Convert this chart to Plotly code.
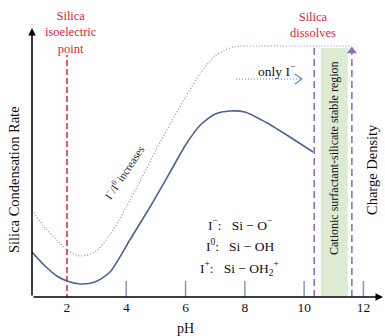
import plotly.graph_objects as go

# ---- data (pH, relative rate) ----
solid_ph = [0.82, 1.26, 1.66, 2.0, 2.44, 2.94, 3.45, 4.12, 4.80, 5.5, 6.0, 6.5, 7.0, 7.5, 8.0, 8.75, 9.52, 10.30]
solid_rate = [45, 31, 21, 16, 13, 15, 25, 57, 90, 126, 152, 172, 183, 186, 185, 174, 160, 145]

dotted_ph = [0.82, 1.26, 1.66, 2.0, 2.44, 2.94, 3.45, 4.0, 4.5, 5.0, 5.5, 6.0, 6.5, 7.0, 7.6, 8.5, 9.5, 10.5, 11.61]
dotted_rate = [87, 69, 57, 47, 41, 45, 62, 90, 118, 147, 174, 200, 224, 241, 250, 251, 251, 251, 251]

tick_vals = [2, 4, 6, 8, 10, 12]
tick_labels = ["2", "4", "6", "8", "10", "12"]
minor_tick_vals = [4, 6, 8, 10, 12]

iep_ph = 2.0
dissolve_ph = 10.34
charge_ph = 11.61
band_ph = [10.56, 11.47]

XR = [0.82, 12.66]
YR = [0, 269]

# pixel helpers for layout placement of text
def X(px):
    return XR[0] + (px - 32) / 29.65

def Y(py):
    return 297 - py

def PX(px):
    return (px - 32) / 351.0

def PY(py):
    return (297 - py) / 269.0

FONT = "Liberation Serif, Times New Roman, serif"
RED = "#d3293a"
PURPLE = "#8f70b6"
SOLID = "#4a6592"
DOT = "#7f93b5"
TICK = "#7d9cbd"
NB = "\u00a0"

fig = go.Figure()

# green band
fig.add_shape(type="rect", x0=band_ph[0], x1=band_ph[1], y0=0, y1=Y(48),
              fillcolor="#dcebd1", line_width=0, layer="below")

# tick marks
for t in minor_tick_vals:
    fig.add_trace(go.Scatter(x=[t, t], y=[0, 16], mode="lines",
                             line=dict(color=TICK, width=1.5), hoverinfo="skip"))

# curves
fig.add_trace(go.Scatter(x=dotted_ph, y=dotted_rate, mode="lines",
                         line=dict(color=DOT, width=1.2, dash="1px,2px", shape="spline", smoothing=0.7)))
fig.add_trace(go.Scatter(x=solid_ph, y=solid_rate, mode="lines",
                         line=dict(color=SOLID, width=1.6, shape="spline", smoothing=0.7)))

# red dashed iep line
fig.add_trace(go.Scatter(x=[iep_ph, iep_ph], y=[-3, Y(55)], mode="lines",
                         line=dict(color=RED, width=1.5, dash="6px,3px"), cliponaxis=False))

# purple dashed lines
fig.add_trace(go.Scatter(x=[dissolve_ph, dissolve_ph], y=[0, Y(47)], mode="lines",
                         line=dict(color=PURPLE, width=1.6, dash="7px,4px")))
fig.add_trace(go.Scatter(x=[charge_ph, charge_ph], y=[0, Y(52)], mode="lines",
                         line=dict(color=PURPLE, width=1.6, dash="7px,4px")))
fig.add_trace(go.Scatter(x=[charge_ph], y=[Y(51)], mode="markers",
                         marker=dict(symbol="triangle-up", size=9, color=PURPLE), cliponaxis=False))

# "only I-" dotted arrow
fig.add_trace(go.Scatter(x=[X(236), X(302)], y=[Y(79), Y(79)], mode="lines",
                         line=dict(color="#5b8ad0", width=1.2, dash="1px,2px")))
fig.add_trace(go.Scatter(x=[X(295), X(302), X(295)], y=[Y(74), Y(79), Y(84)], mode="lines",
                         line=dict(color="#5b8ad0", width=1.2)))

# axes arrows
fig.add_annotation(x=XR[1], y=0, ax=XR[0], ay=0, xref="x", yref="y", axref="x", ayref="y",
                   text="", showarrow=True, arrowhead=2, arrowsize=1, arrowwidth=1.5, arrowcolor="black")
fig.add_annotation(x=XR[0], y=YR[1], ax=XR[0], ay=0, xref="x", yref="y", axref="x", ayref="y",
                   text="", showarrow=True, arrowhead=2, arrowsize=1, arrowwidth=1.5, arrowcolor="black")

def txt(px, py, s, size=12, color="#111", angle=0):
    fig.add_annotation(x=PX(px), y=PY(py), xref="paper", yref="paper", text=s, showarrow=False,
                       font=dict(family=FONT, size=size, color=color), textangle=angle,
                       xanchor="center", yanchor="middle")

txt(71, 33, "Silica<br>isoelectric<br>point", 12.5, RED)
txt(313, 25, "Silica<br>dissolves", 12.5, RED)
txt(276, 71, "only" + NB + "I<sup>−</sup>", 13.5)
txt(124, 172, "I<sup>−</sup>/I<sup>0</sup>" + NB + "increases", 11, "#222", -56)
txt(240, 224, "I<sup>−</sup>:" + NB * 3 + "Si" + NB + "−" + NB + "O<sup>−</sup>", 13.5)
txt(240, 246, "I<sup>0</sup>:" + NB * 3 + "Si" + NB + "−" + NB + "OH", 13.5)
txt(239, 268, "I<sup>+</sup>:" + NB * 3 + "Si" + NB + "−" + NB + "OH<sub>2</sub><sup>+</sup>", 13.5)
txt(334, 158, "Cationic surfactant-silicate stable region", 12, "#111", -90)
txt(372, 170, "Charge Density", 14.5, "#111", -90)
txt(14, 180, "Silica Condensation Rate", 14.5, "#111", -90)
txt(185, 328, "pH", 14)

fig.update_layout(
    width=385, height=336,
    margin=dict(l=32, r=2, t=28, b=39),
    paper_bgcolor="white", plot_bgcolor="white",
    showlegend=False,
    font=dict(family=FONT),
    xaxis=dict(range=XR, showgrid=False, zeroline=False, showline=False,
               tickvals=tick_vals, ticktext=tick_labels, ticks="",
               tickfont=dict(family=FONT, size=13.5, color="#111"), fixedrange=True),
    yaxis=dict(range=YR, showgrid=False, zeroline=False, showline=False,
               showticklabels=False, ticks="", fixedrange=True),
)

fig.write_html("out.html", config={"displayModeBar": False})
